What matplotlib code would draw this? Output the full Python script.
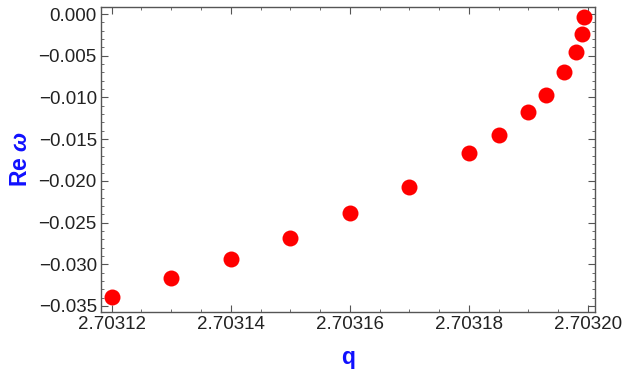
import matplotlib
matplotlib.use("Agg")
import matplotlib.pyplot as plt
from matplotlib.ticker import MultipleLocator, FuncFormatter

q = [2.70312, 2.70313, 2.70314, 2.70315, 2.70316, 2.70317, 2.70318, 2.703185,
     2.70319, 2.703193, 2.703196, 2.703198, 2.703199, 2.7031994]
re_omega = [-0.0339, -0.0317, -0.0294, -0.0268, -0.0239, -0.0207, -0.0167, -0.0145,
            -0.0117, -0.0097, -0.0070, -0.0045, -0.0024, -0.0004]

plt.rcParams['font.family'] = ['Liberation Sans', 'DejaVu Sans']
plt.rcParams['mathtext.fontset'] = 'custom'
plt.rcParams['mathtext.it'] = 'Liberation Sans:italic:bold'
plt.rcParams['mathtext.rm'] = 'Liberation Sans:bold'

fig = plt.figure(figsize=(6.23, 3.72), dpi=100)
ax = fig.add_axes([101/623, 1 - 312/372, (595-101)/623, (312-7)/372])

ax.plot(q, re_omega, 'o', color='#ff0000', markersize=11.5, markeredgewidth=0)

ax.set_xlim(2.7031182, 2.7032012)
ax.set_ylim(-0.03572, 0.00084)

ax.xaxis.set_major_locator(MultipleLocator(0.00002))
ax.xaxis.set_minor_locator(MultipleLocator(0.000005))
ax.yaxis.set_major_locator(MultipleLocator(0.005))
ax.yaxis.set_minor_locator(MultipleLocator(0.001))
ax.xaxis.set_major_formatter(FuncFormatter(lambda v, p: f"{v:.5f}"))
ax.yaxis.set_major_formatter(FuncFormatter(lambda v, p: f"{v:.3f}".replace('-', '\u2212') if abs(v) > 1e-9 else "0.000"))

frame_col = '#555555'
for s in ax.spines.values():
    s.set_color(frame_col)
    s.set_linewidth(1.0)
ax.tick_params(which='both', direction='in', top=True, right=True, color=frame_col,
               labelsize=13.5, labelcolor='#222222')
ax.tick_params(which='major', length=5, width=0.8, pad=3)
ax.tick_params(which='minor', length=2.5, width=0.6)

ax.set_xlabel('q', color='#1010ff', fontsize=16.5, fontweight='bold', labelpad=9)
ax.set_ylabel(r'Re $\omega$', color='#1010ff', fontsize=16.5, fontweight='bold', labelpad=5)

fig.savefig('out.png', dpi=100)
